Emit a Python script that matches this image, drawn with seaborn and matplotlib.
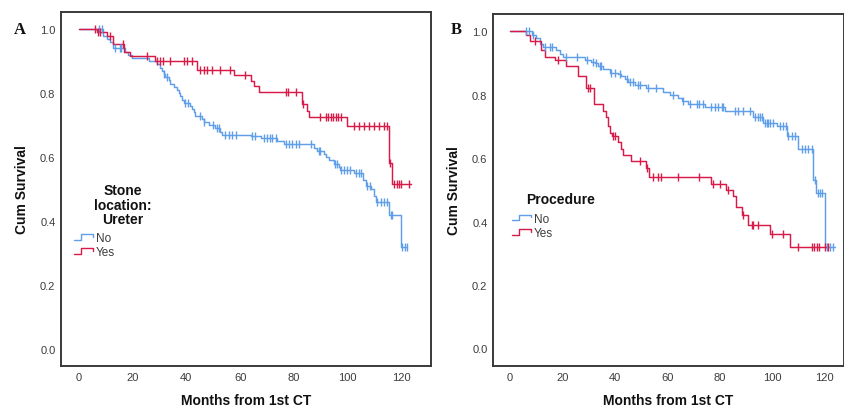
import numpy as np
import pandas as pd
import matplotlib
matplotlib.use("Agg")
import matplotlib.pyplot as plt
import seaborn as sns
from matplotlib.lines import Line2D
from matplotlib.legend_handler import HandlerBase

# ---------------- DATA ----------------
# Panel A: Stone location: Ureter
a_no_t = [0, 9.2, 10.4, 11.7, 12.7, 17.3, 18.5, 19.8, 26.0, 29.1, 30.3, 30.9, 31.6, 32.2, 33.4, 34.0,
          35.3, 36.5, 37.1, 37.8, 38.4, 39.0, 41.5, 42.1, 42.7, 43.4, 45.8, 46.5, 48.3, 50.8, 52.7,
          53.3, 63.9, 67.6, 73.8, 76.3, 87.5, 88.7, 91.2, 91.8, 93.0, 94.9, 96.8, 97.1, 102.4, 105.8,
          106.7, 108.6, 109.8, 110.4, 115.4, 119.8]
a_no_s = [1.0, 0.98, 0.97, 0.96, 0.94, 0.93, 0.92, 0.91, 0.90, 0.89, 0.88, 0.87, 0.86, 0.85, 0.84, 0.83,
          0.82, 0.81, 0.80, 0.79, 0.78, 0.77, 0.76, 0.75, 0.74, 0.73, 0.72, 0.71, 0.70, 0.69, 0.68,
          0.67, 0.665, 0.66, 0.65, 0.64, 0.63, 0.62, 0.61, 0.60, 0.59, 0.58, 0.57, 0.56, 0.55, 0.53,
          0.51, 0.50, 0.48, 0.46, 0.42, 0.32]
a_no_end = 122.2
a_no_cens = [7.7, 8.6, 13.5, 15.2, 15.7, 31.7, 32.8, 39.6, 40.5, 45.2, 46.7, 50.1, 51.4, 52.0, 54.5,
             55.8, 57.0, 58.3, 64.5, 65.7, 68.8, 70.1, 71.3, 71.9, 73.2, 76.9, 78.2, 79.4, 80.7, 81.9,
             86.2, 89.3, 89.9, 95.2, 95.9, 97.4, 98.6, 99.9, 100.9, 103.0, 104.2, 104.8, 107.3, 108.3,
             111.1, 112.3, 113.5, 114.8, 116.0, 116.6, 120.4, 121.2, 122.2]

a_yes_t = [0, 6.7, 10.4, 12.9, 16.9, 19.1, 28.4, 44.0, 57.6, 63.9, 65.1, 67.0, 83.1, 84.7, 85.6,
           99.9, 115.4, 116.6]
a_yes_s = [1.0, 0.99, 0.98, 0.954, 0.928, 0.916, 0.901, 0.872, 0.856, 0.839, 0.822, 0.803, 0.765,
           0.745, 0.727, 0.699, 0.582, 0.516]
a_yes_end = 123.5
a_yes_cens = [6.1, 7.1, 8.0, 11.7, 16.3, 25.3, 29.1, 30.1, 31.3, 34.0, 39.0, 40.2, 42.1, 45.2, 46.5,
              47.7, 49.6, 52.7, 56.1, 62.0, 76.9, 77.8, 80.9, 83.5, 89.9, 91.8, 92.7, 93.7, 94.7,
              95.5, 96.4, 97.4, 102.4, 104.2, 106.1, 107.9, 109.8, 111.7, 113.5, 114.8, 115.8,
              117.3, 118.3, 119.1, 119.8, 122.9]

# Panel B: Procedure
b_no_t = [0, 8.2, 10.1, 11.3, 12.6, 17.7, 19.0, 20.3, 28.5, 31.1, 32.4, 33.6, 35.5, 38.1, 41.3,
          42.5, 43.8, 45.1, 47.6, 52.1, 58.5, 61.0, 64.2, 65.5, 68.0, 74.4, 82.0, 92.9, 96.7,
          101.8, 105.6, 110.1, 115.8, 116.8, 120.3]
b_no_s = [1.0, 0.99, 0.98, 0.96, 0.95, 0.94, 0.93, 0.92, 0.91, 0.905, 0.90, 0.89, 0.88, 0.87, 0.865,
          0.86, 0.85, 0.84, 0.83, 0.82, 0.81, 0.80, 0.79, 0.78, 0.77, 0.76, 0.75, 0.73, 0.71,
          0.70, 0.67, 0.63, 0.53, 0.49, 0.32]
b_no_end = 124.1
b_no_cens = [6.2, 7.1, 8.8, 13.2, 15.2, 16.2, 21.5, 25.4, 29.2, 31.7, 33.0, 34.3, 34.9, 38.7, 40.0,
             41.9, 44.5, 45.7, 47.0, 49.0, 49.6, 52.7, 55.9, 62.3, 66.1, 68.7, 71.2, 72.2, 73.8,
             76.9, 78.2, 79.5, 80.8, 81.4, 85.9, 87.1, 89.0, 91.6, 93.5, 94.8, 95.4, 96.1, 97.3,
             98.0, 98.6, 99.2, 100.5, 103.1, 104.3, 105.4, 106.2, 107.5, 108.8, 111.3, 112.6,
             113.9, 115.2, 116.4, 117.7, 118.3, 119.0, 120.9, 122.2, 123.4]

b_yes_t = [0, 6.2, 7.5, 12.0, 13.2, 17.1, 21.3, 26.0, 28.9, 32.0, 35.5, 36.6, 37.5, 38.3, 39.1,
           41.3, 42.2, 43.2, 46.0, 51.8, 53.1, 76.9, 82.4, 85.2, 86.2, 88.4, 90.9, 99.2, 106.9]
b_yes_s = [1.0, 0.99, 0.97, 0.94, 0.92, 0.91, 0.89, 0.86, 0.82, 0.77, 0.75, 0.73, 0.70, 0.68, 0.67,
           0.65, 0.63, 0.61, 0.59, 0.57, 0.54, 0.52, 0.50, 0.48, 0.445, 0.42, 0.39, 0.36, 0.32]
b_yes_end = 121.5
b_yes_cens = [9.4, 18.3, 29.8, 30.4, 39.4, 40.0, 49.8, 52.4, 54.6, 56.6, 57.8, 64.2, 72.2, 77.6,
              80.1, 83.1, 89.0, 92.2, 92.9, 94.8, 99.9, 104.1, 110.1, 115.2, 116.1, 117.1, 118.1,
              120.3, 121.5]

group_labels = ["No", "Yes"]
x_ticks = [0, 20, 40, 60, 80, 100, 120]
y_ticks = [0.0, 0.2, 0.4, 0.6, 0.8, 1.0]
x_label = "Months from 1st CT"
y_label = "Cum Survival"

# ---------------- STYLE ----------------
sns.set_theme(style="white")
plt.rcParams["font.family"] = ["Liberation Sans", "DejaVu Sans"]
BLUE = "#5f9ee8"
RED = "#d81a48"
SPINE = "#3a3a3a"
TXT = "#3c3c3c"


class StepHandler(HandlerBase):
    def create_artists(self, legend, orig_handle, xdescent, ydescent, width, height, fontsize, trans):
        x0 = -xdescent
        y0 = -ydescent
        xs = [x0, x0 + 0.35 * width, x0 + 0.35 * width, x0 + width, x0 + width]
        ys = [y0 + 0.15 * height, y0 + 0.15 * height, y0 + 0.85 * height, y0 + 0.85 * height, y0 + 0.5 * height]
        ln = Line2D(xs, ys, color=orig_handle.get_color(), lw=1.0, transform=trans)
        return [ln]


def km_frame(times, surv, end):
    return pd.DataFrame({"t": list(times) + [end], "s": list(surv) + [surv[-1]]})


def cens_frame(times, surv, cens):
    tt = np.asarray(times)
    ss = np.asarray(surv)
    idx = np.searchsorted(tt, np.asarray(cens), side="right") - 1
    return pd.DataFrame({"t": cens, "s": ss[idx]})


def draw_panel(ax, curves, xlim, ylim):
    for (times, surv, end, cens, color) in curves:
        sns.lineplot(data=km_frame(times, surv, end), x="t", y="s", ax=ax, color=color,
                     drawstyle="steps-post", linewidth=1.05, estimator=None, sort=False)
        sns.scatterplot(data=cens_frame(times, surv, cens), x="t", y="s", ax=ax, color=color,
                        marker="|", s=32, linewidth=1.0, zorder=3)
    ax.set_xlim(*xlim)
    ax.set_ylim(*ylim)
    ax.set_xticks(x_ticks)
    ax.set_yticks(y_ticks)
    ax.set_xticklabels([str(v) for v in x_ticks])
    ax.set_yticklabels([f"{v:.1f}" for v in y_ticks])
    ax.tick_params(axis="both", length=0, pad=4, labelsize=8, labelcolor=TXT)
    ax.set_xlabel(x_label, fontsize=10, fontweight="bold", color="#111111", labelpad=8)
    ax.set_ylabel(y_label, fontsize=10, fontweight="bold", color="#111111", labelpad=8)
    for sp in ax.spines.values():
        sp.set_visible(True)
        sp.set_color(SPINE)
        sp.set_linewidth(1.4)
    ax.grid(False)


fig = plt.figure(figsize=(8.45, 4.10), dpi=100)
fig.patch.set_facecolor("white")
axA = fig.add_axes([61 / 845, 43 / 410, 370 / 845, 354 / 410])
axB = fig.add_axes([493 / 845, 43 / 410, 351 / 845, 352 / 410])

draw_panel(axA, [(a_no_t, a_no_s, a_no_end, a_no_cens, BLUE),
                 (a_yes_t, a_yes_s, a_yes_end, a_yes_cens, RED)],
           (-6.6, 131), (-0.053, 1.054))
draw_panel(axB, [(b_no_t, b_no_s, b_no_end, b_no_cens, BLUE),
                 (b_yes_t, b_yes_s, b_yes_end, b_yes_cens, RED)],
           (-6.5, 127.5), (-0.056, 1.055))

handles = [Line2D([], [], color=BLUE), Line2D([], [], color=RED)]
for ax, anchor in [(axA, (0.035, 0.379)), (axB, (0.055, 0.436))]:
    leg = ax.legend(handles, group_labels, loc="upper left", bbox_to_anchor=anchor, frameon=False,
                    fontsize=8.5, handlelength=1.6, handletextpad=0.25, labelspacing=0.2,
                    borderpad=0, borderaxespad=0, handler_map={Line2D: StepHandler()})
    for t in leg.get_texts():
        t.set_color(TXT)

axA.text(0.168, 0.516, "Stone\nlocation:\nUreter", transform=axA.transAxes, ha="center", va="top",
         fontsize=10, fontweight="bold", color="#111111", linespacing=1.05)
axB.text(0.094, 0.474, "Procedure", transform=axB.transAxes, ha="left", va="center",
         fontsize=10, fontweight="bold", color="#111111")

fig.text(14 / 845, 1 - 30 / 410, "A", ha="left", va="center", fontsize=12, fontweight="bold",
         family=["Liberation Serif", "DejaVu Serif"], color="#111111")
fig.text(451 / 845, 1 - 30 / 410, "B", ha="left", va="center", fontsize=12, fontweight="bold",
         family=["Liberation Serif", "DejaVu Serif"], color="#111111")

fig.savefig("out.png", dpi=100, facecolor="white")
